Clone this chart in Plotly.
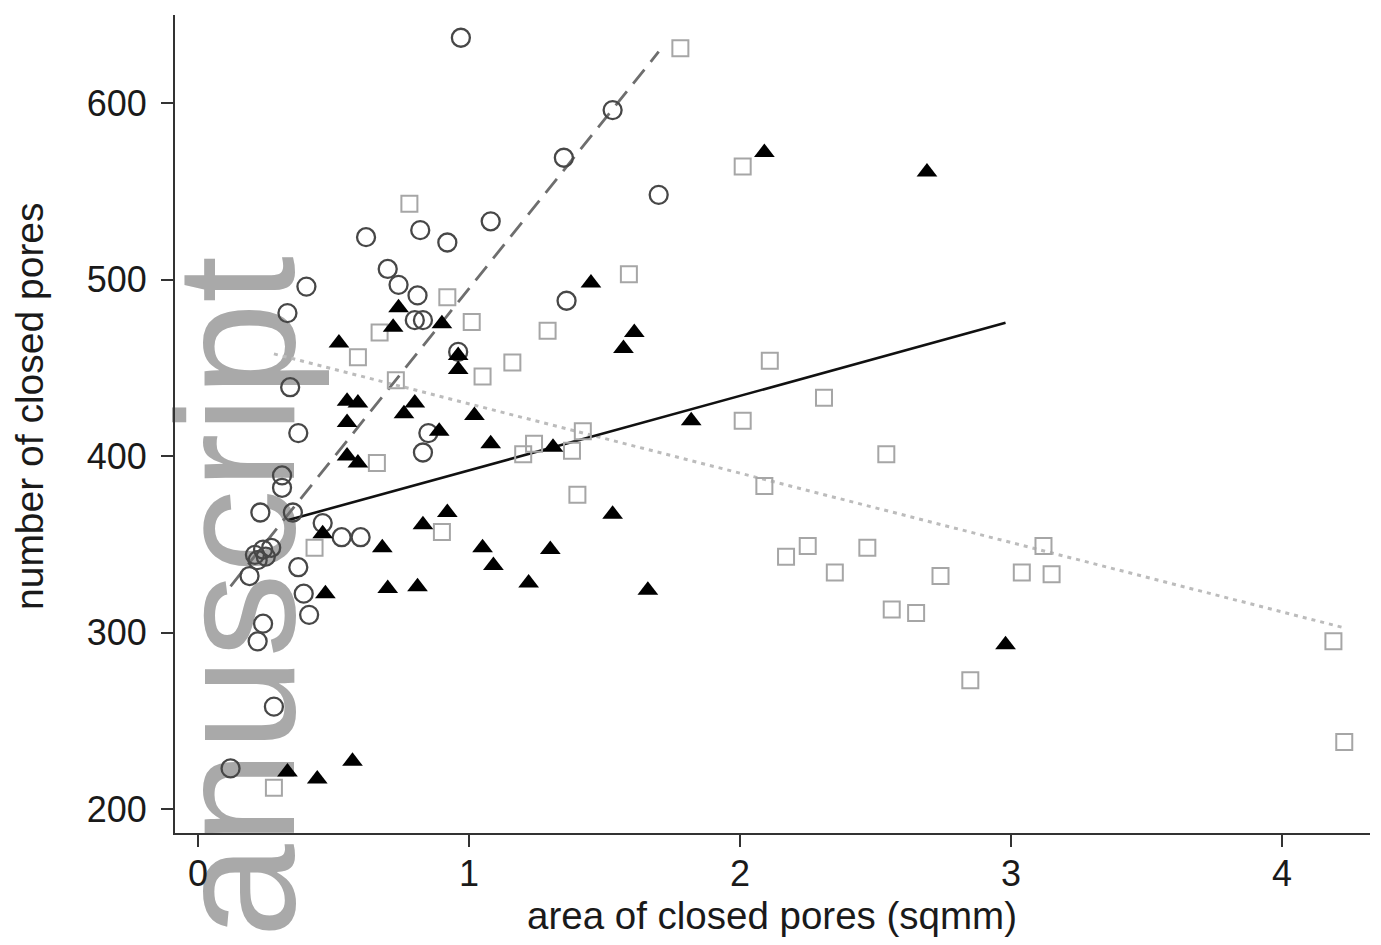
import plotly.graph_objects as go
import numpy as np

# --- data ---
circle_x = [0.12, 0.28, 0.22, 0.24, 0.41, 0.39, 0.37, 0.19, 0.21, 0.24, 0.27, 0.22, 0.25,
            0.23, 0.35, 0.46, 0.53, 0.60, 0.31, 0.31, 0.37, 0.34, 0.33, 0.40, 0.62, 0.70,
            0.74, 0.81, 0.80, 0.83, 0.82, 0.92, 0.85, 0.83, 0.97, 1.08, 1.36, 1.35, 1.53,
            1.70, 0.96]
circle_y = [223, 258, 295, 305, 310, 322, 337, 332, 344, 347, 348, 341, 343,
            368, 368, 362, 354, 354, 389, 382, 413, 439, 481, 496, 524, 506,
            497, 491, 477, 477, 528, 521, 413, 402, 637, 533, 488, 569, 596,
            548, 459]

tri_x = [0.33, 0.44, 0.57, 0.46, 0.47, 0.68, 0.70, 0.81, 0.83, 0.92, 0.74, 0.72, 0.52,
         0.90, 0.55, 0.59, 0.55, 0.55, 0.59, 0.80, 0.76, 0.89, 0.96, 0.96, 1.02, 1.08,
         1.31, 1.05, 1.09, 1.30, 1.22, 1.53, 1.66, 1.45, 1.61, 1.57, 1.82, 2.09, 2.69, 2.98]
tri_y = [221, 217, 227, 356, 322, 348, 325, 326, 361, 368, 484, 473, 464,
         475, 431, 430, 419, 400, 396, 430, 424, 414, 457, 449, 423, 407,
         405, 348, 338, 347, 328, 367, 324, 498, 470, 461, 420, 572, 561, 293]

sq_x = [1.78, 2.01, 0.78, 0.92, 1.01, 1.29, 1.16, 1.05, 1.59, 2.11, 2.31, 2.01, 2.54,
        1.42, 1.38, 1.20, 1.24, 0.67, 0.59, 0.73, 0.66, 0.43, 0.90, 0.28, 2.09, 1.40,
        2.17, 2.25, 2.35, 2.47, 2.56, 2.65, 2.74, 2.85, 3.12, 3.04, 3.15, 4.19, 4.23]
sq_y = [631, 564, 543, 490, 476, 471, 453, 445, 503, 454, 433, 420, 401,
        414, 403, 401, 407, 470, 456, 443, 396, 348, 357, 212, 383, 378,
        343, 349, 334, 348, 313, 311, 332, 273, 349, 334, 333, 295, 238]

# fitted lines (intercept, slope)
fit_circle = [303.2, 191.7]
fit_tri = [349.7, 42.2]
fit_sq = [468.9, -39.3]

x_ticks = [0, 1, 2, 3, 4]
y_ticks = [200, 300, 400, 500, 600]

FONT = "Liberation Sans, Arial, Helvetica, sans-serif"


def fit_line(xs, p):
    xr = np.array([min(xs), max(xs)])
    return xr, p[0] + p[1] * xr


fig = go.Figure()

# regression lines
for xs, p, color, dash, w in [
    (sq_x, fit_sq, "#bcbcbc", "4px,5px", 3),
    (circle_x, fit_circle, "#6e6e6e", "18px,10px", 2.8),
    (tri_x, fit_tri, "#111111", "solid", 2.6),
]:
    lx, ly = fit_line(xs, p)
    fig.add_trace(go.Scatter(x=lx, y=ly, mode="lines",
                             line=dict(color=color, dash=dash, width=w),
                             showlegend=False, hoverinfo="skip"))

fig.add_trace(go.Scatter(x=sq_x, y=sq_y, mode="markers",
                         marker=dict(symbol="square-open", size=16,
                                     color="#a6a6a6", line=dict(width=2, color="#a6a6a6")),
                         showlegend=False))
fig.add_trace(go.Scatter(x=circle_x, y=circle_y, mode="markers",
                         marker=dict(symbol="circle-open", size=18,
                                     color="#474747", line=dict(width=2.3, color="#474747")),
                         showlegend=False))
fig.add_trace(go.Scatter(x=tri_x, y=tri_y, mode="markers",
                         marker=dict(symbol="triangle-up", size=18, color="#000000",
                                     line=dict(width=0)),
                         showlegend=False))

# page offset of the figure inside the browser window (default body margin)
OFF = 8
W, H = 1381, 945
# plot-area edges in screen pixels
SL, SR, ST, SB = 175, 1370, 15, 833
L, T = SL - OFF, ST - OFF
R, B = W - (SR - OFF), H - (SB - OFF)
pw, ph = SR - SL, SB - ST


def px(xs):
    return (xs - SL) / pw


def py(ys):
    return (SB - ys) / ph


fig.update_layout(
    width=W, height=H,
    margin=dict(l=L, r=R, t=T, b=B, autoexpand=False),
    paper_bgcolor="white", plot_bgcolor="white",
    font=dict(family=FONT, color="#1a1a1a"),
    xaxis=dict(range=[-0.085, 4.325], tickvals=x_ticks, ticks="outside", ticklen=12,
               tickwidth=2, tickcolor="#333333", showline=True, linecolor="#333333",
               linewidth=2, showgrid=False, zeroline=False, ticklabelstandoff=-4,
               tickfont=dict(size=36, family=FONT, color="#1a1a1a")),
    yaxis=dict(range=[186.4, 649.9], tickvals=y_ticks, ticks="outside", ticklen=12,
               tickwidth=2, tickcolor="#333333", showline=True, linecolor="#333333",
               linewidth=2, showgrid=False, zeroline=False, ticklabelstandoff=7,
               tickfont=dict(size=36, family=FONT, color="#1a1a1a")),
    annotations=[
        dict(text="number of closed pores", x=px(30), y=py(406), xref="paper", yref="paper",
             xanchor="center", yanchor="middle", textangle=-90, showarrow=False,
             font=dict(size=39, family=FONT, color="#1a1a1a")),
        dict(text="area of closed pores (sqmm)", x=px(772), y=py(915), xref="paper",
             yref="paper", xanchor="center", yanchor="middle", showarrow=False,
             font=dict(size=38.5, family=FONT, color="#1a1a1a")),
    ],
    shapes=[
        dict(type="rect", xref="paper", yref="paper",
             x0=px(220) - 0.08, x1=px(220) + 0.08, y0=py(667) - 0.5, y1=py(667) + 0.5,
             line=dict(width=0), fillcolor="rgba(0,0,0,0)", layer="below",
             label=dict(text="Manuscript", textangle=-90, textposition="middle center",
                        font=dict(size=168, family=FONT, color="#a9a9a9"))),
    ],
)

fig.write_html("out.html")
